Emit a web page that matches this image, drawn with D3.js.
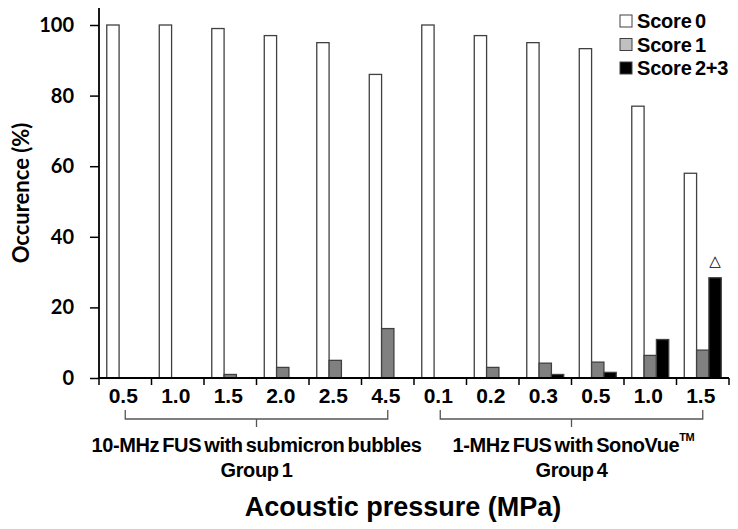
<!DOCTYPE html>
<html>
  <head>
    <meta charset="utf-8" />
    <style>
      body { margin: 0; background: #fff; }
      .tick text { font-family: "Liberation Sans", Arial, sans-serif; font-weight: bold; fill: #000; }
      .bar { stroke: #404040; stroke-width: 1.3px; }
    </style>
  </head>
  <body>
    <svg id="chart"></svg>
    <script src="https://d3js.org/d3.v7.min.js"></script>
    <script>
      // data
      const pressures = ["0.5", "1.0", "1.5", "2.0", "2.5", "4.5", "0.1", "0.2", "0.3", "0.5", "1.0", "1.5"];
      const seriesNames = ["Score 0", "Score 1", "Score 2+3"];
      const score0 = [100, 100, 99, 97, 95, 86, 100, 97, 95, 93.3, 77, 58];
      const score1 = [0, 0, 1, 3, 5, 14, 0, 3, 4.2, 4.5, 6.4, 7.9];
      const score23 = [0, 0, 0, 0, 0, 0, 0, 0, 1, 1.6, 10.9, 28.4];
      const yTicks = [0, 20, 40, 60, 80, 100];
      const groups = [
        { from: 0, to: 5, lines: ["10-MHz FUS with submicron bubbles", "Group 1"] },
        { from: 6, to: 11, lines: ["1-MHz FUS with SonoVue", "Group 4"], tm: true }
      ];
      const markIndex = 11; // triangle above the Score 2+3 bar

      const width = 738;
      const height = 529;
      const margin = { top: 8, left: 99, right: 9, bottom: 151 };

      const svg = d3.select("#chart").attr("width", width).attr("height", height);

      const idx = pressures.map((d, i) => i);
      const x0 = d3.scaleBand().domain(idx).range([margin.left, width - margin.right]);
      const x1 = d3.scaleBand().domain(seriesNames).range([0, x0.bandwidth()]).paddingOuter(0.63);
      const y = d3.scaleLinear().domain([0, 100]).range([378, 25]);

      const fills = { "Score 0": "#ffffff", "Score 1": "#808080", "Score 2+3": "#000000" };
      const legendFills = { "Score 0": "#ffffff", "Score 1": "#c0c0c0", "Score 2+3": "#000000" };

      const rows = idx.map((i) => ({
        i,
        values: [
          { key: "Score 0", v: score0[i] },
          { key: "Score 1", v: score1[i] },
          { key: "Score 2+3", v: score23[i] }
        ]
      }));

      const g = svg.selectAll("g.cat").data(rows).join("g")
        .attr("class", "cat")
        .attr("transform", (d) => `translate(${x0(d.i)},0)`);

      g.selectAll("rect").data((d) => d.values.filter((v) => v.v > 0)).join("rect")
        .attr("class", "bar")
        .attr("x", (d) => x1(d.key))
        .attr("y", (d) => y(d.v))
        .attr("width", x1.bandwidth())
        .attr("height", (d) => y(0) - y(d.v))
        .attr("fill", (d) => fills[d.key]);

      // y axis
      const yAxis = svg.append("g")
        .attr("transform", `translate(${margin.left},0)`)
        .call(d3.axisLeft(y).tickValues(yTicks).tickSize(9).tickPadding(16));
      yAxis.select(".domain").attr("d", `M0,${margin.top}V${y(0)}`).attr("stroke", "#000").attr("stroke-width", 1.8);
      yAxis.selectAll(".tick line").attr("stroke", "#000").attr("stroke-width", 1.5);
      yAxis.selectAll(".tick text").style("font-family", "Lato, sans-serif").style("font-size", "20px");

      // x axis: ticks at category boundaries
      const boundaries = idx.map((i) => x0(i)).concat([width - margin.right]);
      svg.append("line")
        .attr("x1", margin.left).attr("x2", width - margin.right)
        .attr("y1", y(0)).attr("y2", y(0))
        .attr("stroke", "#000").attr("stroke-width", 1.8);
      svg.selectAll("line.xt").data(boundaries).join("line")
        .attr("class", "xt")
        .attr("x1", (d) => d).attr("x2", (d) => d)
        .attr("y1", y(0)).attr("y2", y(0) + 7)
        .attr("stroke", "#000").attr("stroke-width", 1.5);
      svg.selectAll("text.xl").data(idx).join("text")
        .attr("class", "xl")
        .attr("x", (i) => x0(i) + x0.bandwidth() / 2 - 2)
        .attr("y", 403)
        .attr("text-anchor", "middle")
        .style("font-family", "'Liberation Sans', Arial, sans-serif")
        .style("font-weight", "bold")
        .style("font-size", "21px")
        .text((i) => pressures[i]);

      // group brackets and labels
      groups.forEach((gr) => {
        const a = x0(gr.from) + x0.bandwidth() / 2;
        const b = x0(gr.to) + x0.bandwidth() / 2;
        const m = (a + b) / 2;
        svg.append("path")
          .attr("d", `M${a},410V419H${b}V410M${m},419V427`)
          .attr("fill", "none")
          .attr("stroke", "#555")
          .attr("stroke-width", 1.3);
        const t = svg.append("text")
          .attr("x", m + (gr.tm ? 2 : 0))
          .attr("y", 452)
          .attr("text-anchor", "middle")
          .style("font-family", "'Liberation Sans', Arial, sans-serif")
          .style("font-weight", "bold")
          .style("font-size", "20px")
          .style("letter-spacing", "-0.4px")
          .style("word-spacing", "-2px")
          .text(gr.lines[0]);
        if (gr.tm) {
          t.append("tspan").attr("dy", -11).style("font-size", "11px").text("TM");
        }
        svg.append("text")
          .attr("x", m)
          .attr("y", 477)
          .attr("text-anchor", "middle")
          .style("font-family", "'Liberation Sans', Arial, sans-serif")
          .style("font-weight", "bold")
          .style("font-size", "20px")
          .style("letter-spacing", "-0.4px")
          .style("word-spacing", "-2px")
          .text(gr.lines[1]);
      });

      // significance mark
      svg.append("text")
        .attr("x", x0(markIndex) + x1("Score 2+3") + x1.bandwidth() / 2)
        .attr("y", y(score23[markIndex]) - 12)
        .attr("text-anchor", "middle")
        .style("font-family", "'DejaVu Sans', sans-serif")
        .style("font-size", "15px")
        .text("\u25B3");

      // axis titles
      svg.append("text")
        .attr("x", 403)
        .attr("y", 516)
        .attr("text-anchor", "middle")
        .style("font-family", "'Liberation Sans', Arial, sans-serif")
        .style("font-weight", "bold")
        .style("font-size", "27px")
        .text("Acoustic pressure (MPa)");
      svg.append("text")
        .attr("transform", "translate(29,193) rotate(-90)")
        .attr("text-anchor", "middle")
        .style("font-family", "Lato, sans-serif")
        .style("font-weight", "bold")
        .style("font-size", "22px")
        .text("Occurence (%)");

      // legend
      const legend = svg.append("g").attr("transform", "translate(620,15)");
      const li = legend.selectAll("g").data(seriesNames).join("g")
        .attr("transform", (d, i) => `translate(0,${i * 23.5})`);
      li.append("rect")
        .attr("width", 12).attr("height", 12)
        .attr("fill", (d) => legendFills[d])
        .attr("stroke", "#404040").attr("stroke-width", 1);
      li.append("text")
        .attr("x", 17).attr("y", 13)
        .style("font-family", "'Liberation Sans', Arial, sans-serif")
        .style("font-weight", "bold")
        .style("font-size", "20px")
        .style("letter-spacing", "-0.2px")
        .style("word-spacing", "-2px")
        .text((d) => d);
    </script>
  </body>
</html>
